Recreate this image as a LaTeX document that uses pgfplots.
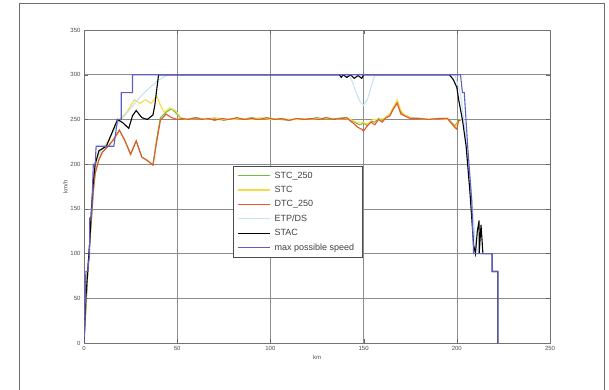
\documentclass[border=0pt]{standalone}
\usepackage{pgfplots}
\pgfplotsset{compat=1.18}
\usepackage{fontspec}
\setmainfont{Liberation Sans}
\definecolor{cgreen}{RGB}{110,190,60}
\definecolor{cyellow}{RGB}{245,220,70}
\definecolor{cred}{RGB}{235,85,40}
\definecolor{cltblue}{RGB}{195,228,245}
\definecolor{cblue}{RGB}{95,95,195}
\definecolor{cframe}{RGB}{110,110,110}
\begin{document}
\begin{tikzpicture}[x=1pt,y=1pt]
\useasboundingbox (0,0) rectangle (609,389);
\draw[cframe,line width=1.6pt] (19.5,-10) -- (19.5,385.5) -- (604.5,385.5) -- (604.5,-10);
\begin{axis}[
  at={(84pt,46pt)}, anchor=origin,
  scale only axis, width=466pt, height=313pt,
  xmin=0, xmax=250, ymin=0, ymax=350,
  xtick={0,50,...,250}, ytick={0,50,...,350},
  grid=major,
  major grid style={black!45, line width=0.6pt},
  axis line style={black!55, line width=0.8pt},
  tick style={black!60},
  tick align=inside,
  ticklabel style={font=\fontsize{6}{7}\selectfont, text=black!70},
  /pgf/number format/assume math mode=true,
  xlabel={km}, ylabel={km/h},
  label style={font=\fontsize{6}{7}\selectfont, text=black!70},
  xlabel style={yshift=2pt},
  ylabel style={yshift=-4pt},
  legend style={at={(axis cs:80,198)}, anchor=north west,
    font=\fontsize{9}{10}\selectfont, draw=black!70, line width=0.6pt,
    inner xsep=4pt, inner ysep=3.5pt, row sep=2.6pt, text=black!75,
    nodes={inner xsep=4pt}},
  legend cell align=left,
  legend image code/.code={\draw[#1, line width=1.1pt] (0pt,0pt) -- (32pt,0pt);},
  every axis plot/.append style={line width=1.1pt},
]
% STC_250
\addplot[cgreen] coordinates {
(0,0)(1,40)(2,80)(3,110)(4,140)(5,170)(6,190)(8,205)(10,214)(13,220)(16,228)(19,238)
(22,226)(25,211)(28,226)(31,208)(34,204)(37,199)(39,228)(41,252)(44,258)(47,262)(49,258)(52,251)
(55,250)(60,252)(65,250)(70,251)(75,249)(80,251)(85,250)(90,252)(95,250)(100,251)(105,250)
(110,249)(115,251)(120,250)(125,252)(130,250)(135,251)(140,252)(143,249)(146,246)(148,244)
(150,246)(152,243)(154,248)(156,247)(158,251)(160,249)(162,252)(164,254)(166,262)(168,269)
(170,258)(172,255)(175,252)(180,251)(185,250)(190,251)(195,251)(197,247)(199,243)(201,249)(202,250)};
% STC
\addplot[cyellow] coordinates {
(0,0)(1,45)(2,80)(3,110)(4,145)(5,175)(6,198)(8,212)(11,220)(14,230)(17,245)(20,252)
(23,258)(25,265)(27,272)(30,268)(33,272)(36,268)(39,276)(41,266)(43,258)(46,263)(49,260)(52,252)
(55,250)(60,251)(65,250)(70,252)(75,250)(80,250)(85,251)(90,250)(95,252)(100,250)(105,251)
(110,250)(115,250)(120,251)(125,250)(130,252)(135,250)(140,251)(143,250)(146,247)(149,247)
(152,245)(155,250)(158,250)(161,251)(164,256)(166,264)(168,272)(170,260)(172,255)(175,252)
(180,251)(185,250)(190,251)(195,250)(197,246)(199,241)(201,248)(202,250)};
% DTC_250
\addplot[cred] coordinates {
(0,0)(1,40)(2,80)(3,110)(4,140)(5,170)(6,190)(8,205)(10,214)(13,220)(16,228)(19,238)
(22,226)(25,211)(28,226)(31,208)(34,204)(37,199)(39,225)(41,249)(44,256)(47,252)(50,250)
(53,251)(56,250)(60,252)(63,250)(67,251)(70,249)(74,251)(78,250)(82,252)(86,250)(90,251)
(94,250)(98,252)(102,250)(106,251)(110,249)(114,251)(118,250)(122,251)(126,250)(130,252)
(134,250)(138,251)(141,252)(143,248)(145,245)(147,241)(149,239)(150,237)(152,243)(154,247)
(156,244)(158,250)(160,247)(162,252)(164,254)(166,262)(168,268)(170,256)(172,254)(175,251)
(180,251)(185,250)(190,251)(195,251)(197,246)(199,241)(200,239)(201,249)(202,249)};
% ETP/DS
\addplot[cltblue] coordinates {
(0,0)(1,45)(2,80)(3,110)(4,150)(5,180)(6,200)(9,215)(13,225)(16,238)(20,250)(25,262)
(30,275)(35,285)(40,294)(45,300)(142,300)(144,292)(146,280)(148,270)(150,266)
(152,272)(154,286)(156,300)(199,300)(202,278)(204,245)(206,205)(208,160)(210,110)
(212,100)(219,100)(219,80)(222,80)(222,0)};
% STAC
\addplot[black] coordinates {
(0,0)(1,50)(2,80)(3,110)(4,150)(5,180)(6,200)(8,215)(12,220)(15,235)(18,250)(21,246)
(24,240)(26,254)(28,260)(31,252)(34,250)(37,255)(38,266)(40,300)(137,300)(138,297)(139,300)
(141,297)(143,300)(145,296)(147,299)(149,296)(150,300)(196,300)(198,295)(200,286)(201,272)
(203,250)(205,220)(207,170)(209,110)(210,100)(211,125)(212,137)(212,100)(213,132)(214,100)
(219,100)(219,80)(222,80)(222,0)};
% max possible speed
\addplot[cblue] coordinates {
(0,0)(0.5,30)(1,80)(2,80)(3,100)(3,140)(4,140)(5,200)(6,200)(6.5,220)(16,220)(18,250)
(20,250)(20,280)(26,280)(26,300)(202,300)(203,280)(204,280)(206,215)(208,160)(209,100)
(219,100)(219,80)(222,80)(222,0)};
\legend{STC\_250, STC, DTC\_250, ETP/DS, STAC, max possible speed}
\end{axis}
\end{tikzpicture}
\end{document}
